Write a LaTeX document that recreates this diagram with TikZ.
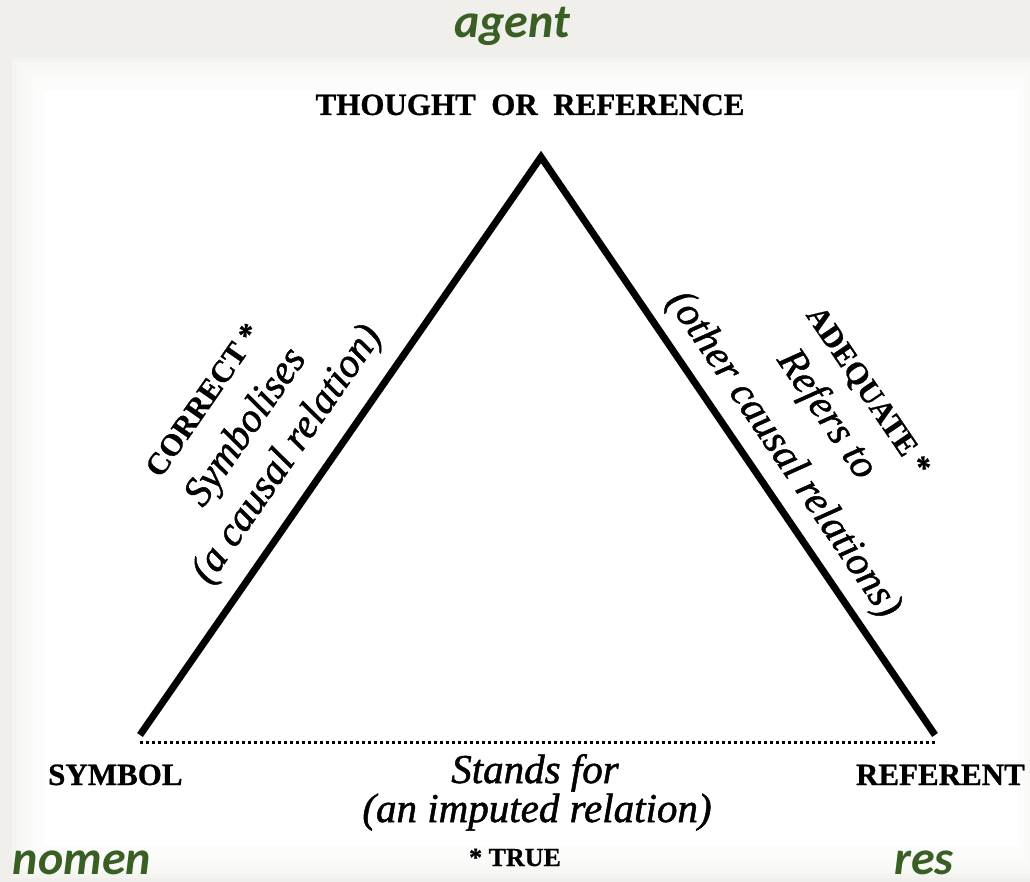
\documentclass[tikz,border=0pt]{standalone}
\usepackage{fontspec}
\setmainfont{Liberation Serif}[ItalicFeatures={FakeBold=1.2},BoldFeatures={FakeBold=0.8}]
\newfontfamily\latinfont{Carlito}
\usetikzlibrary{positioning}
\definecolor{latin}{HTML}{3A5F24}
\definecolor{paper}{HTML}{F0EFEB}
\tikzset{
  caps/.style={inner sep=0pt, font=\fontsize{31}{31}\selectfont\bfseries},
  smallcaps/.style={inner sep=0pt, font=\fontsize{26}{26}\selectfont\bfseries},
  relation/.style={inner sep=0pt, font=\fontsize{41}{41}\selectfont\itshape},
  latinword/.style={inner sep=0pt, text=latin,
    font=\fontsize{48}{48}\selectfont\latinfont\bfseries\itshape},
  side/.style={line width=7pt, line join=miter},
  imputedline/.style={line width=3pt, dash pattern=on 2.5pt off 3.5pt},
}

\begin{document}
\begin{tikzpicture}[x=1pt,y=-1pt]
        \useasboundingbox (0,0) rectangle (1030,882);
        % paper with the scanned page on it
        \fill[paper] (0,0) rectangle (1030,882);
        \foreach \i in {0,...,7}
          \fill[white,opacity=0.25] ({12+4*\i},{58+4*\i}) rectangle ({1034-2*\i},{878-4*\i});
        \fill[white] (44,90) rectangle (1018,846);

        \path
        (541,157) coordinate(apex)
        (140,735) coordinate(symbolcorner)
        (935,735) coordinate(referentcorner)
        (140,742) coordinate(symboldots)
        (935,742) coordinate(referentdots)
        (530,115) node[caps,anchor=base](thought) {THOUGHT\ \ OR\ \ REFERENCE}
        (48,785) node[caps,anchor=base west](symbol) {SYMBOL}
        (1025,785) node[caps,anchor=base east](referent) {REFERENT}
        (535,783) node[relation,anchor=base](standsfor) {Stands for}
        (537,822) node[relation,anchor=base](imputed) {(an imputed relation)}
        (515,866) node[smallcaps,anchor=base](true) {* TRUE}
        (203,400) node[caps,rotate=55.3](correct) {CORRECT *}
        (247,428) node[relation,rotate=55.3](symbolises) {Symbolises}
        (288,455) node[relation,rotate=55.3](causal) {(a causal relation)}
        (867,392) node[caps,rotate=-55.8](adequate) {ADEQUATE *}
        (826,415) node[relation,rotate=-55.8](refersto) {Refers to}
        (783,455) node[relation,rotate=-55.8](othercausal) {(other causal relations)}
        (512,38) node[latinword,anchor=base](agent) {agent}
        (82,874) node[latinword,anchor=base](nomen) {nomen}
        (924,874) node[latinword,anchor=base](res) {res}
        ;

        \draw[side] (symbolcorner) -- (apex) -- (referentcorner);
        \draw[imputedline] (symboldots) -- (referentdots);
      \end{tikzpicture}
\end{document}
